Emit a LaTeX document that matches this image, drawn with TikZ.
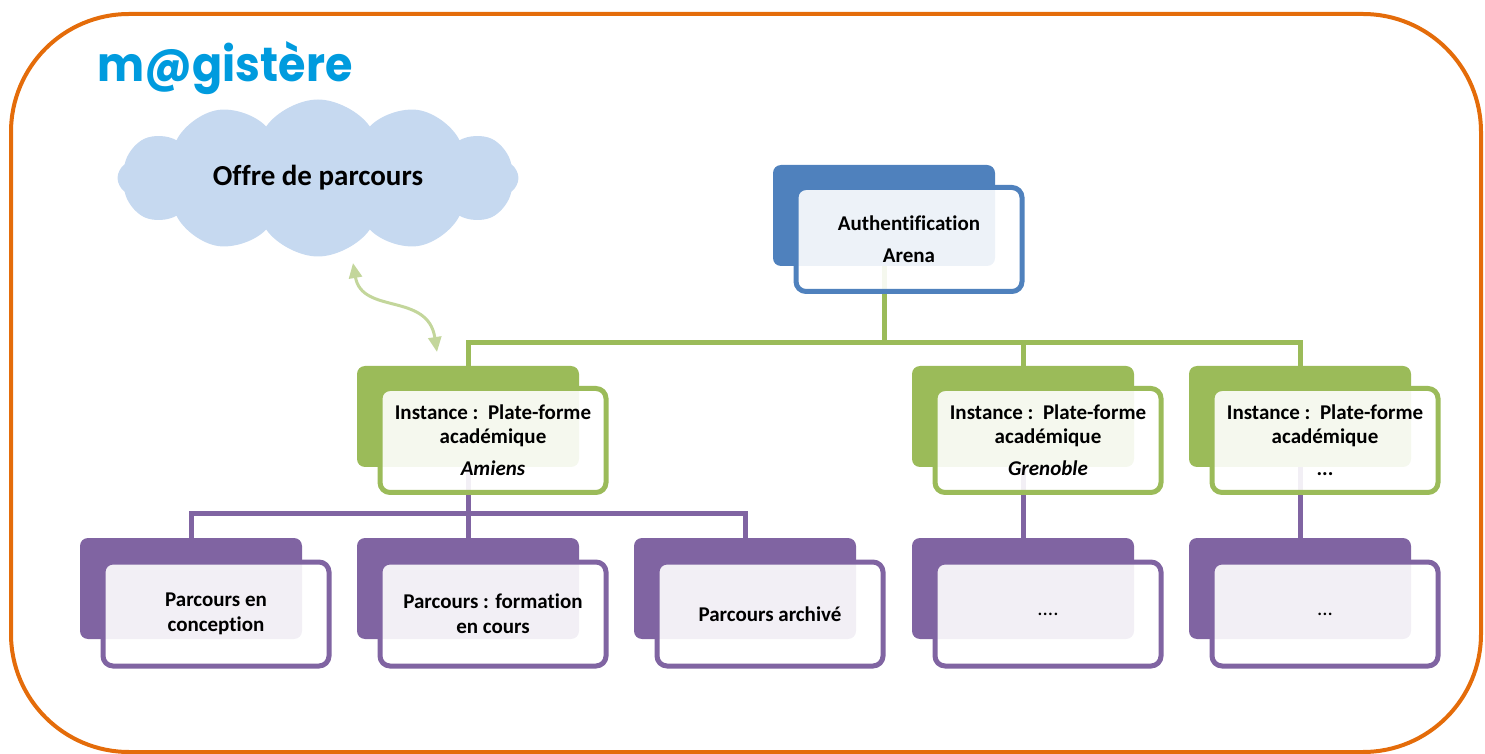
\documentclass[tikz,border=0pt]{standalone}
\usepackage{fontspec}
\setmainfont{Carlito}[Ligatures=NoCommon]
\newfontfamily\logofont{Poppins}
\usetikzlibrary{shapes.symbols,arrows.meta}
\definecolor{arenablue}{RGB}{79,129,189}
\definecolor{instgreen}{RGB}{155,187,89}
\definecolor{parcpurple}{RGB}{128,100,162}
\definecolor{framecol}{RGB}{228,108,10}
\definecolor{cloudblue}{RGB}{198,217,240}
\definecolor{arrowgreen}{RGB}{195,214,155}
\definecolor{logoblue}{RGB}{0,155,222}

\begin{document}
\begin{tikzpicture}[
    x=0.5pt, y=-0.5pt,
    backbox/.style={rectangle, rounded corners=4pt, fill=#1, minimum width=111pt, minimum height=50.5pt, inner sep=0pt},
    frontbox/.style={rectangle, rounded corners=5pt, draw=#1, line width=2.5pt, fill=white, fill opacity=0.9, text opacity=1, minimum width=113pt, minimum height=52pt, inner sep=2pt, align=center, font=\fontsize{10.5}{12}\selectfont\bfseries},
    parcbox/.style={frontbox=parcpurple, font=\fontsize{10.5}{12.5}\selectfont\bfseries},
    link/.style={draw=#1, line width=2.5pt}
]
    \useasboundingbox (0,0) rectangle (1485,754);
    \draw[framecol, line width=2pt, rounded corners=59pt] (11,14) rectangle (1481,752);

    \node[anchor=base west, inner sep=0pt, text=logoblue] (logo) at (97,82) {\resizebox{127.5pt}{20pt}{\logofont\bfseries m@gistère}};
    \node[cloud, cloud puffs=12, cloud puff arc=110, cloud ignores aspect, fill=cloudblue, minimum width=200.5pt, minimum height=78.5pt, inner sep=0pt, font=\fontsize{14.5}{17}\selectfont\bfseries] (offre) at (318,178) {Offre de parcours};

    \coordinate (arrA) at (353,263);
    \coordinate (arrB) at (437,352);
    \draw[arrowgreen, line width=1.5pt, {Triangle[length=7.5pt,width=6.5pt]}-{Triangle[length=7.5pt,width=6.5pt]}] (arrA) .. controls (362,315) and (428,292) .. (arrB);

    % back boxes
    \node[backbox=arenablue] at (884,215.5) (arenaB) {};
    \node[backbox=instgreen] at (468,416.5) (amiensB) {};
    \node[backbox=instgreen] at (1023,416.5) (grenobleB) {};
    \node[backbox=instgreen] at (1300,416.5) (autreB) {};
    \node[backbox=parcpurple] at (191,588.5) (conceptB) {};
    \node[backbox=parcpurple] at (468,588.5) (coursB) {};
    \node[backbox=parcpurple] at (745,588.5) (archiveB) {};
    \node[backbox=parcpurple] at (1023,588.5) (grenParcB) {};
    \node[backbox=parcpurple] at (1300,588.5) (autreParcB) {};

    % connectors
    \coordinate (gbus) at (0,343);
    \coordinate (pbus) at (0,514);
    \draw[link=instgreen] (arenaB.south) -- (arenaB.south |- gbus) -| (amiensB.north);
    \draw[link=instgreen] (arenaB.south |- gbus) -| (grenobleB.north);
    \draw[link=instgreen] (grenobleB.north |- gbus) -| (autreB.north);
    \draw[link=parcpurple] (amiensB.south) -- (coursB.north);
    \draw[link=parcpurple] (amiensB.south |- pbus) -| (conceptB.north);
    \draw[link=parcpurple] (amiensB.south |- pbus) -| (archiveB.north);
    \draw[link=parcpurple] (grenobleB.south) -- (grenParcB.north);
    \draw[link=parcpurple] (autreB.south) -- (autreParcB.north);

    % front boxes
    \node[frontbox=arenablue] at (909,239.5) (arena) {Authentification\\[4pt] Arena};
    \node[frontbox=instgreen] at (493,440.5) (amiens) {Instance :~~Plate-forme\\ académique\\[4pt] \textit{Amiens}};
    \node[frontbox=instgreen] at (1048,440.5) (grenoble) {Instance :~~Plate-forme\\ académique\\[4pt] \textit{Grenoble}};
    \node[frontbox=instgreen] at (1325,440.5) (autre) {Instance :~~Plate-forme\\ académique\\[4pt] ...};
    \node[parcbox] at (216,614) (concept) {Parcours en\\ conception};
    \node[parcbox] at (493,614) (cours) {Parcours : formation\\ en cours};
    \node[parcbox] at (770,614) (archive) {Parcours archivé};
    \node[parcbox] at (1048,614) (grenParc) {\mdseries ....};
    \node[parcbox] at (1325,614) (autreParc) {\mdseries ...};
\end{tikzpicture}
\end{document}
